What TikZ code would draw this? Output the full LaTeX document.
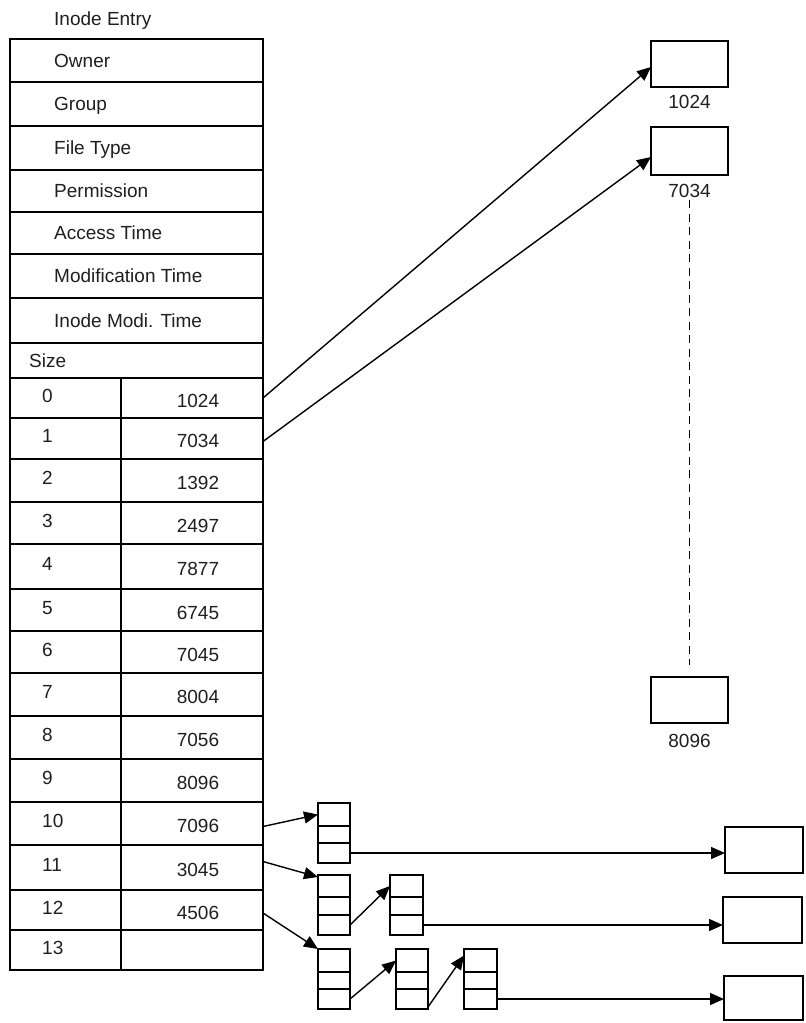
\documentclass[tikz,border=0pt]{standalone}
\usepackage{fontspec}
\setmainfont{Liberation Sans}
\usetikzlibrary{arrows.meta,calc}
\begin{document}
\begin{tikzpicture}[x=1pt,y=-1pt,
  lw/.style={line width=1.4pt},
  cell/.style={draw, lw, rectangle, inner sep=0pt, outer sep=0pt, anchor=north west},
  txt/.style={font=\fontsize{19}{22}\selectfont, inner sep=0pt, text=black!88},
  arr/.style={lw, -{Triangle[length=14pt,width=12pt]}},
  dashline/.style={line width=1.7pt, dash pattern=on 8pt off 5.5pt}
  ]
\useasboundingbox (0,0) rectangle (806,1023);

% title
\node[txt, anchor=base west] (title) at (54,25) {Inode Entry};

% upper rows
\foreach \nm/\y/\h/\t in {owner/39/43/Owner, group/82/44/Group, ftype/126/44/File Type,
   perm/170/42/Permission, atime/212/42/Access Time, mtime/254/44/Modification Time,
   itime/298/45/Inode Modi. Time}{
  \node[cell, minimum width=253pt, minimum height=\h pt] (\nm) at (10,\y) {};
  \node[txt, anchor=base west] at ($(\nm.west)+(44,6.6)$) {\t};
}
\node[cell, minimum width=253pt, minimum height=35pt] (size) at (10,343) {};
\node[txt, anchor=base west] at ($(size.west)+(19,6.6)$) {Size};

% block rows
\foreach \i/\y/\h/\v in {0/378/40/1024, 1/418/41/7034, 2/459/43/1392, 3/502/42/2497,
   4/544/45/7877, 5/589/42/6745, 6/631/42/7045, 7/673/43/8004, 8/716/43/7056,
   9/759/43/8096, 10/802/43/7096, 11/845/45/3045, 12/890/40/4506, 13/930/40/{}}{
  \node[cell, minimum width=111pt, minimum height=\h pt] (n\i) at (10,\y) {};
  \node[cell, minimum width=142pt, minimum height=\h pt] (v\i) at (121,\y) {};
  \node[txt, anchor=base west] at ($(n\i.west)+(32,4)$) {\i};
  \node[txt, anchor=base] at ($(v\i.center)+(6,9)$) {\v};
}

% direct data blocks
\node[cell, minimum width=77pt, minimum height=46pt] (b1024) at (651,41) {};
\node[txt, anchor=base] (l1024) at ($(b1024.south)+(0,21)$) {1024};
\node[cell, minimum width=77pt, minimum height=48pt] (b7034) at (651,127) {};
\node[txt, anchor=base] (l7034) at ($(b7034.south)+(0,22)$) {7034};
\node[cell, minimum width=77pt, minimum height=46pt] (b8096) at (651,677) {};
\node[txt, anchor=base] (l8096) at ($(b8096.south)+(0,24)$) {8096};

\draw[arr] (v0.east) -- ($(b1024.west)+(0,3)$);
\draw[arr] ($(v1.east)+(0,3)$) -- ($(b7034.west)+(0,6)$);
\draw[dashline] ($(l7034.south)+(0,3)$) -- ($(b8096.north)+(0,-12)$);

% indirect blocks (3 cells each)
\foreach \nm/\x/\w/\ya/\yb/\yc/\yd in {a/318/32/803/826/843/863, b1/318/32/875/897/915/935,
   b2/390/33/875/897/915/935, c1/318/32/949/972/989/1009, c2/396/32/949/972/989/1009,
   c3/464/33/949/972/989/1009}{
  \pgfmathsetmacro\ha{\yb-\ya}\pgfmathsetmacro\hb{\yc-\yb}\pgfmathsetmacro\hc{\yd-\yc}
  \node[cell, minimum width=\w pt, minimum height=\ha pt] (\nm1) at (\x,\ya) {};
  \node[cell, minimum width=\w pt, minimum height=\hb pt] (\nm2) at (\x,\yb) {};
  \node[cell, minimum width=\w pt, minimum height=\hc pt] (\nm3) at (\x,\yc) {};
}

% final data blocks
\node[cell, minimum width=78pt, minimum height=46pt] (r1) at (725,827) {};
\node[cell, minimum width=79pt, minimum height=46pt] (r2) at (723,897) {};
\node[cell, minimum width=79pt, minimum height=44pt] (r3) at (724,976) {};

% connectors
\draw[arr] ($(v10.east)+(0,3)$) -- (a1.west);
\draw[arr] ($(v11.east)+(0,-6)$) -- ($(b11.north west)+(0,2)$);
\draw[arr] ($(v12.east)+(0,3)$) -- (c11.north west);
\draw[arr] (b13.east) -- (b21.west);
\draw[arr] (c13.east) -- (c21.west);
\draw[arr] ($(c23.south east)+(0,-2)$) -- ($(c31.west)+(0,-5)$);
\draw[arr] (a3.east) -- (a3.east -| r1.west);
\draw[arr] (b23.east) -- (b23.east -| r2.west);
\draw[arr] (c33.east) -- (c33.east -| r3.west);
\end{tikzpicture}
\end{document}
